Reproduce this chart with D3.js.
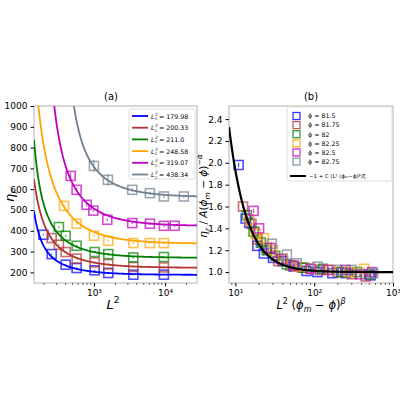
<!DOCTYPE html><html><head><script src="https://d3js.org/d3.v7.min.js"></script>
<style>body{margin:0;background:#fff}svg text{font-family:"DejaVu Sans",sans-serif}</style></head><body>
<svg id="c" width="400" height="400"></svg>
<script>
const colors=["#0000ff","#b03535","#008000","#ffa500","#bf00bf","#708090"];
const lcLabels=["179.98","200.33","211.0","248.58","319.07","438.34"];
const phiLabels=["81.5","81.75","82","82.25","82.5","82.75"];
// panel a data [L2, eta]
const aBlue=[[195,381],[255,288],[401,237],[571,221],[1023,210],[1590,197],[3570,189],[9600,189]];
const aRed=[[255,365],[322,333],[401,298],[571,266],[1023,248],[1590,240],[3570,226],[9600,224]];
const aGreen=[[322,418],[401,376],[571,328],[1023,298],[1590,288],[3570,272],[9600,274]];
const aOrange=[[380,520],[571,434],[1000,376],[1590,352],[3570,341],[6100,341],[9600,341]];
const aMagenta=[[471,664],[571,597],[790,525],[980,497],[1540,453],[3450,437],[6100,434],[9600,424],[13600,424]];
const aGray=[[1000,712],[1570,645],[3450,597],[6100,581],[9600,565],[18300,565]];
const aErr=[[3,3,3,3,3,3,3,3],[4,4,4,4,4,4,4,4],[5,5,5,5,5,5,5],[6,6,6,6,6,6,6],[15,10,8,6,6,6,6,6,6],[28,28,8,8,8,8]];
// fit params: eta = inf + k/(L2 - L0)
const fitInf=[188,222,270,338,423,562];
const fitK=[13500,23000,25000,51600,70700,103500];
const fitL0=[100,90,100,88,155,287];
// panel b data [x, y]
const bBlue=[[11,1.98],[13.5,1.49],[15,1.45],[19,1.24],[23,1.17],[30,1.13],[40,1.10],[55,1.05],[80,1.01],[110,1.0],[170,0.99],[250,0.99],[520,0.97]];
const bRed=[[12.5,1.60],[16,1.44],[19,1.30],[25,1.22],[35,1.10],[50,1.06],[70,1.04],[120,1.02],[200,1.00],[300,0.98],[450,0.96]];
const bGreen=[[14,1.52],[17,1.37],[21,1.27],[25,1.20],[32,1.15],[45,1.07],[75,1.04],[130,1.03],[230,1.00],[350,1.00],[500,0.98]];
const bOrange=[[15,1.48],[18,1.35],[23,1.31],[30,1.20],[40,1.12],[60,1.05],[90,1.03],[160,1.02],[280,1.00],[430,1.03]];
const bMagenta=[[17,1.56],[20,1.40],[28,1.22],[38,1.12],[55,1.06],[90,1.03],[150,1.02],[250,1.02],[380,0.98],[540,1.00]];
const bGray=[[29,1.26],[45,1.16],[60,1.08],[110,1.05],[200,1.02],[300,1.02],[560,0.99]];
const bC=74, bXi=-1.9;
const aTicks=[200,300,400,500,600,700,800,900,1000];
const bTicks=[1.0,1.2,1.4,1.6,1.8,2.0,2.2,2.4];

const svg=d3.select("#c");
const A=[aBlue,aRed,aGreen,aOrange,aMagenta,aGray];
const B=[bBlue,bRed,bGreen,bOrange,bMagenta,bGray];
function sup(n){return "10"+"⁰¹²³⁴⁵⁶⁷⁸⁹"[Math.round(Math.log10(n))];}
function frame(x0,x1,y0,y1,xs,ys,yt,yfmt,xt){
  const g=svg.append("g");
  g.append("g").attr("transform",`translate(0,${y1})`).call(d3.axisBottom(xs).tickValues(xt).tickFormat(sup).tickSize(3.5)).call(s=>{s.select(".domain").remove();s.selectAll("text").attr("font-size",9);});
  const mins=[];const [d0,d1]=xs.domain();
  for(let e=Math.floor(Math.log10(d0));e<Math.log10(d1);e++)for(let m=2;m<10;m++){const v=m*10**e;if(v>=d0&&v<=d1)mins.push(v);}
  g.selectAll(".mn").data(mins).join("line").attr("x1",d=>xs(d)).attr("x2",d=>xs(d)).attr("y1",y1).attr("y2",y1+2).attr("stroke","#000").attr("stroke-width",0.6);
  g.append("g").attr("transform",`translate(${x0},0)`).call(d3.axisLeft(ys).tickValues(yt).tickFormat(yfmt).tickSize(3.5)).call(s=>{s.select(".domain").remove();s.selectAll("text").attr("font-size",9);});
  return g;
}
function box(x0,x1,y0,y1){svg.append("rect").attr("x",x0).attr("y",y0).attr("width",x1-x0).attr("height",y1-y0).attr("fill","none").attr("stroke","#ccc").attr("stroke-width",1.5);}
function sq(g,x,y,c){g.append("rect").attr("x",x-4.5).attr("y",y-4.5).attr("width",9).attr("height",9).attr("fill","none").attr("stroke",c).attr("stroke-width",1.6).attr("opacity",0.7);}

// Panel a
const ax0=34,ax1=197,ay0=106,ay1=283;
const xa=d3.scaleLog().domain([144,28000]).range([ax0,ax1]);
const ya=d3.scaleLinear().domain([149,1000]).range([ay1,ay0]);
box(ax0,ax1,ay0,ay1);
frame(ax0,ax1,ay0,ay1,xa,ya,aTicks,d=>d,[1000,10000]);
svg.append("clipPath").attr("id","ca").append("rect").attr("x",ax0).attr("y",ay0).attr("width",ax1-ax0).attr("height",ay1-ay0);
const gl=svg.append("g").attr("clip-path","url(#ca)");
A.forEach((s,i)=>{
  const xs=d3.range(0,301).map(j=>144*Math.pow(28000/144,j/300)).filter(v=>v>fitL0[i]+5);
  gl.append("path").attr("d",d3.line().x(d=>xa(d)).y(d=>ya(Math.min(1100,fitInf[i]+fitK[i]/(d-fitL0[i]))))(xs)).attr("fill","none").attr("stroke",colors[i]).attr("stroke-width",1.8);
  s.forEach((p,j)=>{const e=aErr[i][j]||4;
    gl.append("line").attr("x1",xa(p[0])).attr("x2",xa(p[0])).attr("y1",ya(p[1]-e)).attr("y2",ya(p[1]+e)).attr("stroke",colors[i]).attr("stroke-width",1.2).attr("opacity",0.7);
    sq(gl,xa(p[0]),ya(p[1]),colors[i]);});
});
// legend a
svg.append("rect").attr("x",129).attr("y",109).attr("width",66).attr("height",70).attr("fill","#fff").attr("stroke","#ddd").attr("rx",2);
lcLabels.forEach((l,i)=>{const y=116+i*11.7;
  svg.append("line").attr("x1",132).attr("x2",148).attr("y1",y).attr("y2",y).attr("stroke",colors[i]).attr("stroke-width",1.8);
  svg.append("text").attr("x",151).attr("y",y+2.5).attr("font-size",6.3).attr("font-style","italic").text("L");
  svg.append("text").attr("x",155).attr("y",y-0.5).attr("font-size",4.5).text("2");
  svg.append("text").attr("x",155).attr("y",y+4).attr("font-size",4.5).text("c");
  svg.append("text").attr("x",159).attr("y",y+2.5).attr("font-size",6.3).text("= "+l);
});
svg.append("text").attr("x",111).attr("y",100).attr("text-anchor","middle").attr("font-size",10).text("(a)");
{const t=svg.append("text").attr("x",113).attr("y",309).attr("text-anchor","middle").attr("font-size",13);
 t.append("tspan").attr("font-style","italic").text("L");t.append("tspan").attr("font-size",9).attr("dy",-6).text("2");}
{const t=svg.append("text").attr("transform","translate(14,196) rotate(-90)").attr("text-anchor","middle").attr("font-size",13);
 t.append("tspan").attr("font-style","italic").text("η");t.append("tspan").attr("font-size",9).attr("dy",3).attr("font-style","italic").text("r");}

// Panel b
const bx0=229,bx1=393,by0=106,by1=283;
const xb=d3.scaleLog().domain([8.3,1000]).range([bx0,bx1]);
const yb=d3.scaleLinear().domain([0.9,2.52]).range([by1,by0]);
box(bx0,bx1,by0,by1);
frame(bx0,bx1,by0,by1,xb,yb,bTicks,d3.format(".1f"),[10,100,1000]);
svg.append("clipPath").attr("id","cb").append("rect").attr("x",bx0).attr("y",by0).attr("width",bx1-bx0).attr("height",by1-by0);
const gb=svg.append("g").attr("clip-path","url(#cb)");
B.forEach((s,i)=>s.forEach(p=>{
  gb.append("line").attr("x1",xb(p[0])).attr("x2",xb(p[0])).attr("y1",yb(p[1]-0.02)).attr("y2",yb(p[1]+0.02)).attr("stroke",colors[i]).attr("stroke-width",1.2).attr("opacity",0.7);
  sq(gb,xb(p[0]),yb(p[1]),colors[i]);}));
const xsb=d3.range(0,301).map(j=>8.3*Math.pow(1000/8.3,j/300));
gb.append("path").attr("d",d3.line().x(d=>xb(d)).y(d=>yb(1+bC*Math.pow(d,bXi)))(xsb)).attr("fill","none").attr("stroke","#000").attr("stroke-width",2.2);
// legend b
svg.append("rect").attr("x",287).attr("y",107).attr("width",105).attr("height",74).attr("fill","#fff").attr("stroke","#ddd").attr("rx",2);
phiLabels.forEach((l,i)=>{const y=116+i*9.1;
  svg.append("rect").attr("x",293).attr("y",y-3.5).attr("width",7).attr("height",7).attr("fill","none").attr("stroke",colors[i]).attr("stroke-width",1.3).attr("opacity",0.8);
  svg.append("text").attr("x",308).attr("y",y+2.3).attr("font-size",6.3).text("ϕ = "+l);});
svg.append("line").attr("x1",290).attr("x2",306).attr("y1",176).attr("y2",176).attr("stroke","#000").attr("stroke-width",2);
svg.append("text").attr("x",309).attr("y",178).attr("font-size",5.4).text("−1 + C (L² (ϕₘ−ϕ)ᵝ)ᶻ".replace("ᶻ","ξ"));
svg.append("text").attr("x",311).attr("y",100).attr("text-anchor","middle").attr("font-size",10).text("(b)");
{const t=svg.append("text").attr("x",311).attr("y",309).attr("text-anchor","middle").attr("font-size",11.5);
 t.append("tspan").attr("font-style","italic").text("L");t.append("tspan").attr("font-size",8).attr("dy",-5).text("2");
 t.append("tspan").attr("dy",5).text(" (");t.append("tspan").attr("font-style","italic").text("ϕ");
 t.append("tspan").attr("font-size",8).attr("dy",3).attr("font-style","italic").text("m");
 t.append("tspan").attr("dy",-3).text(" − ");t.append("tspan").attr("font-style","italic").text("ϕ");
 t.append("tspan").text(")");t.append("tspan").attr("font-size",8).attr("dy",-5).attr("font-style","italic").text("β");}
{const t=svg.append("text").attr("transform","translate(207,196) rotate(-90)").attr("text-anchor","middle").attr("font-size",10.5);
 t.append("tspan").attr("font-style","italic").text("η");t.append("tspan").attr("font-size",7.5).attr("dy",3).attr("font-style","italic").text("r");
 t.append("tspan").attr("dy",-3).text(" / ");t.append("tspan").attr("font-style","italic").text("A");
 t.append("tspan").text("(");t.append("tspan").attr("font-style","italic").text("ϕ");
 t.append("tspan").attr("font-size",7.5).attr("dy",3).attr("font-style","italic").text("m");
 t.append("tspan").attr("dy",-3).text(" − ");t.append("tspan").attr("font-style","italic").text("ϕ");
 t.append("tspan").text(")");t.append("tspan").attr("font-size",7.5).attr("dy",-5).text("−");
 t.append("tspan").attr("font-size",7.5).attr("font-style","italic").text("α");}
</script></body></html>
